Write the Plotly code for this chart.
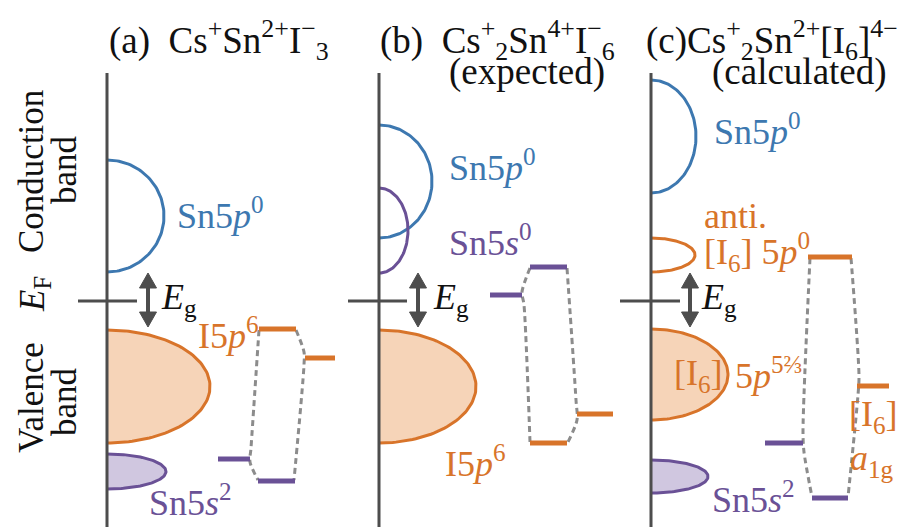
import numpy as np
import plotly.graph_objects as go

W, H = 897, 527

# --- colours ---------------------------------------------------------------
BLUE = "#3d78b0"
ORANGE = "#d8742a"
ORANGE_FILL = "#f6d4b8"
PURPLE = "#6a5196"
PURPLE_FILL = "#d0c7e0"
AXIS = "#4d4d4d"
DASH = "#8c8c8c"
BLACK = "#111111"
FONT = "Liberation Serif, Times New Roman, serif"

# --- energy axes of the three panels (page coordinates, y downwards) -------
axis_x = [107, 379, 651]
axis_top = 73
fermi_y = 301
fermi_tick_x0 = [78, 348, 620]
fermi_tick_x1 = [137, 407, 680]
gap_arrow_x = [148, 418, 690]
gap_arrow_y = [273, 327]

# --- density-of-states lobes: panel, centre y, half-width, half-height -----
band_panel = [0, 0, 0, 1, 1, 1, 2, 2, 2, 2]
band_cy = [216, 386.5, 471.5, 181.5, 230.5, 386.5, 136.5, 255, 374.5, 476.5]
band_rx = [57, 103, 59, 53, 29, 97, 45, 44, 77, 57]
band_ry = [56, 56.5, 17.5, 56.5, 42.5, 56.5, 56.5, 17, 45.5, 16.5]
band_line = [BLUE, ORANGE, PURPLE, BLUE, PURPLE, ORANGE, BLUE, ORANGE, ORANGE, PURPLE]
band_fill = [None, ORANGE_FILL, PURPLE_FILL, None, None, ORANGE_FILL,
             None, None, ORANGE_FILL, PURPLE_FILL]

# --- molecular-orbital levels: x0, x1, y --------------------------------------
level_x0 = [259, 305, 218, 258, 490, 530, 530, 577, 808, 857, 765, 812]
level_x1 = [296, 335, 250, 295, 522, 567, 567, 613, 852, 889, 803, 848]
level_y = [329, 358, 459, 481, 295, 267, 443, 414, 257, 386, 443, 498]
level_color = [ORANGE, ORANGE, PURPLE, PURPLE, PURPLE, PURPLE, ORANGE, ORANGE,
               ORANGE, ORANGE, PURPLE, PURPLE]

# --- correlation lines between levels ----------------------------------------
link_x = [
    [259, 251, 250, 258],
    [296, 304, 304, 294],
    [530, 522, 524, 530],
    [567, 576, 577, 568],
    [810, 803, 804, 812],
    [851, 859, 858, 848],
]
link_y = [
    [330, 448, 462, 480],
    [330, 352, 365, 480],
    [268, 292, 305, 442],
    [268, 400, 420, 442],
    [258, 432, 452, 497],
    [258, 376, 395, 497],
]

fig = go.Figure()


def half_ellipse(x0, cy, rx, ry, n=90):
    t = np.linspace(-np.pi / 2, np.pi / 2, n)
    return x0 + rx * np.cos(t), cy + ry * np.sin(t)


# lobes
for p, cy, rx, ry, lc, fc in zip(band_panel, band_cy, band_rx, band_ry,
                                 band_line, band_fill):
    ex, ey = half_ellipse(axis_x[p], cy, rx, ry)
    if fc:
        fig.add_trace(go.Scatter(x=list(ex) + [ex[0]], y=list(ey) + [ey[0]],
                                 mode="lines", fill="toself", fillcolor=fc,
                                 line=dict(width=0), hoverinfo="skip"))
    fig.add_trace(go.Scatter(x=ex, y=ey, mode="lines",
                             line=dict(color=lc, width=3), hoverinfo="skip"))

# energy axes and Fermi level ticks
for i, ax in enumerate(axis_x):
    fig.add_trace(go.Scatter(x=[ax, ax], y=[axis_top, H + 5], mode="lines",
                             line=dict(color=AXIS, width=3), hoverinfo="skip"))
    fig.add_trace(go.Scatter(x=[fermi_tick_x0[i], fermi_tick_x1[i]],
                             y=[fermi_y, fermi_y], mode="lines",
                             line=dict(color=AXIS, width=3), hoverinfo="skip"))

# band-gap double arrows
head_h, head_w = 15, 8.5
for gx in gap_arrow_x:
    ya, yb = gap_arrow_y
    fig.add_trace(go.Scatter(x=[gx, gx], y=[ya + head_h - 2, yb - head_h + 2],
                             mode="lines", line=dict(color=AXIS, width=4),
                             hoverinfo="skip"))
    for tip, sgn in ((ya, 1), (yb, -1)):
        fig.add_trace(go.Scatter(
            x=[gx, gx - head_w, gx + head_w, gx],
            y=[tip, tip + sgn * head_h, tip + sgn * head_h, tip],
            mode="lines", fill="toself", fillcolor=AXIS,
            line=dict(color=AXIS, width=1), hoverinfo="skip"))

# correlation lines
for lx, ly in zip(link_x, link_y):
    fig.add_trace(go.Scatter(x=lx, y=ly, mode="lines",
                             line=dict(color=DASH, width=3, dash="6px,4px",
                                       shape="spline", smoothing=0.8),
                             hoverinfo="skip"))

# levels
for x0, x1, y, c in zip(level_x0, level_x1, level_y, level_color):
    fig.add_trace(go.Scatter(x=[x0, x1], y=[y, y], mode="lines",
                             line=dict(color=c, width=5), hoverinfo="skip"))

# --- text ---------------------------------------------------------------------
NB = "\u00a0"
label_text = [
    "(a)" + NB + NB + "Cs<sup>+</sup>Sn<sup>2+</sup>I<sup>\u2212</sup><sub>3</sub>",
    "(b)" + NB + NB + "Cs<sup>+</sup><sub>2</sub>Sn<sup>4+</sup>I<sup>\u2212</sup><sub>6</sub>",
    "(expected)",
    "(c)Cs<sup>+</sup><sub>2</sub>Sn<sup>2+</sup>[I<sub>6</sub>]<sup>4\u2212</sup>",
    "(calculated)",
    "Sn5<i>p</i><sup>0</sup>",
    "I5<i>p</i><sup>6</sup>",
    "Sn5<i>s</i><sup>2</sup>",
    "Sn5<i>p</i><sup>0</sup>",
    "Sn5<i>s</i><sup>0</sup>",
    "I5<i>p</i><sup>6</sup>",
    "Sn5<i>p</i><sup>0</sup>",
    "anti.",
    "[I<sub>6</sub>]" + NB + "5<i>p</i><sup>0</sup>",
    "[I<sub>6</sub>]",
    "5<i>p</i><sup>5\u2154</sup>",
    "[I<sub>6</sub>]",
    "<i>a</i><sub>1g</sub>",
    "Sn5<i>s</i><sup>2</sup>",
    "<i>E</i><sub>g</sub>",
    "<i>E</i><sub>g</sub>",
    "<i>E</i><sub>g</sub>",
]
label_x = [107, 378, 447, 644, 710, 175, 196, 147, 447, 447, 443, 712, 702,
           702, 672, 733, 847, 848, 710, 159, 431, 699]
label_y = [40, 40, 72, 40, 72, 213, 333, 500, 165, 240, 461, 129, 216,
           252, 375, 373, 416, 460, 497, 299, 299, 299]
label_color = [BLACK, BLACK, BLACK, BLACK, BLACK, BLUE, ORANGE, PURPLE, BLUE,
               PURPLE, ORANGE, BLUE, ORANGE, ORANGE, ORANGE, ORANGE, ORANGE,
               ORANGE, PURPLE, BLACK, BLACK, BLACK]
label_size = [37, 37, 37, 37, 37, 36, 36, 36, 36, 36, 36, 36, 36, 36, 36, 36,
              36, 36, 36, 36, 36, 36]

for t, x, y, c, s in zip(label_text, label_x, label_y, label_color, label_size):
    fig.add_annotation(x=x, y=y, text=t, showarrow=False, xanchor="left",
                       yanchor="middle", font=dict(family=FONT, size=s, color=c))

# rotated side labels
side_text = ["Conduction", "band", "<i>E</i><sub>F</sub>", "Valence", "band"]
side_x = [31, 64, 34, 31, 64]
side_y = [172, 170, 294, 398, 402]
for t, x, y in zip(side_text, side_x, side_y):
    fig.add_annotation(x=x, y=y, text=t, showarrow=False, textangle=-90,
                       xanchor="center", yanchor="middle",
                       font=dict(family=FONT, size=35, color=BLACK))

fig.update_layout(
    width=W, height=H, margin=dict(l=0, r=0, t=0, b=0),
    paper_bgcolor="white", plot_bgcolor="white", showlegend=False,
    xaxis=dict(range=[0, W], visible=False, fixedrange=True),
    yaxis=dict(range=[H, 0], visible=False, fixedrange=True),
)

fig.write_html("out.html")
